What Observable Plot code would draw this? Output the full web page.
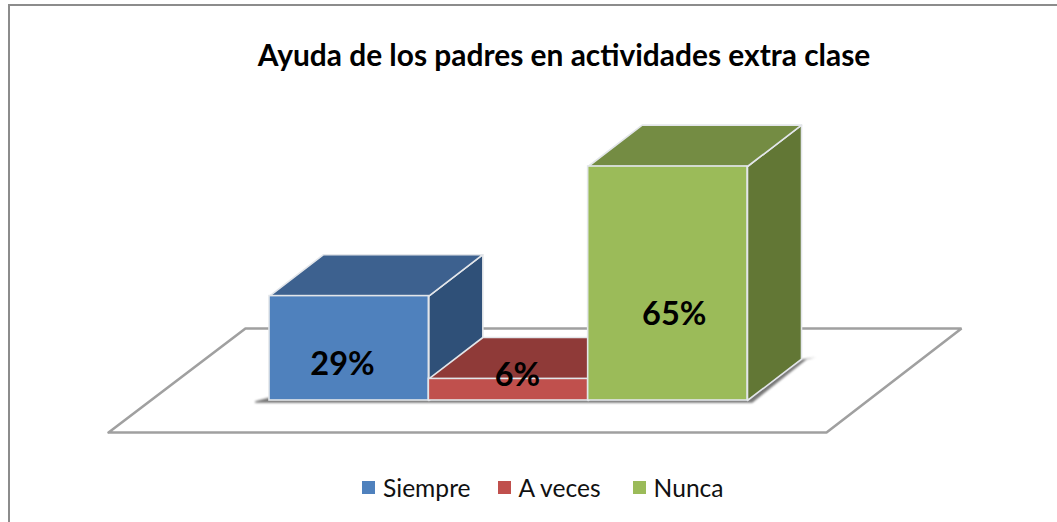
<!DOCTYPE html>
<html><head><meta charset="utf-8">
<script src="https://cdn.jsdelivr.net/npm/d3@7"></script>
<script src="https://cdn.jsdelivr.net/npm/@observablehq/plot@0.6"></script>
<style>
html,body{margin:0;background:#fff;overflow:hidden}
#page{position:relative;width:1057px;height:522px;font-family:Lato,sans-serif;overflow:hidden}
#border{position:absolute;left:8px;top:4px;right:-4px;bottom:-4px;border:2px solid #8c8c8c;pointer-events:none}
#title{position:absolute;left:0;top:-1px;width:1128px;height:90px;line-height:110px;text-align:center;font-size:29.9px;font-weight:700;color:#000;white-space:nowrap}
#chart{position:absolute;left:0;top:90px}
#legend{position:absolute;left:362px;top:472px}
.lg-swatches{font-family:Lato,sans-serif!important;font-size:24.6px!important;color:#111;margin:0!important;min-height:30px!important;white-space:nowrap}
.lg-swatch{margin-right:0!important}
.lg-swatch:nth-child(2){margin-right:27px!important}
.lg-swatch:nth-child(3){margin-right:32px!important}
.lg-swatch svg{margin-right:8px!important}
</style></head>
<body>
<div id="page">
<div id="title">Ayuda de los padres en actividades extra clase</div>
<div id="chart"></div>
<div id="legend"></div>
<div id="border"></div>
</div>
<script>
const categories = ["Siempre", "A veces", "Nunca"];
const values = [29, 6, 65];
const labels = ["29%", "6%", "65%"];
const frontColors = ["#4F81BD", "#C0504D", "#9BBB59"];
const topColors = ["#3D618F", "#8F3A38", "#748C43"];
const sideColors = ["#2F5078", "#7A3230", "#627735"];

// Oblique depth of a bar, in data units of the two scales
const depthX = 0.339, depthY = 11.5;
// Label anchors and floor corners in the same data units
const labelX = [0.458, 1.556, 2.54];
const labelY = [10, 7, 24];
const floorCorners = [[-1.01, -8.9], [3.496, -8.9], [4.343, 20], [-0.151, 20]];
const shadowCorners = [[-0.09, -0.2], [0, 0.8], [3, 0.8], [3.339, 11.4], [3.43, 12], [3.37, 11.4], [3.03, -0.6], [-0.09, -0.6]];

const closed = (pts) => [...pts, pts[0]].map(([x, y]) => ({x, y}));
const edge = "#E3E6EA";
const polygon = (pts, fill, extra = {}) =>
  Plot.line(closed(pts), {x: "x", y: "y", fill, stroke: edge, strokeWidth: 1.6, strokeLinejoin: "round", curve: "linear", ...extra});

const barMarks = categories.flatMap((c, i) => {
  const v = values[i];
  return [
    polygon([[i + 1, 0], [i + 1 + depthX, depthY], [i + 1 + depthX, v + depthY], [i + 1, v]], sideColors[i]),
    polygon([[i, v], [i + 1, v], [i + 1 + depthX, v + depthY], [i + depthX, v + depthY]], topColors[i]),
    Plot.rect([{c, v, i}], {x1: (d) => d.i, x2: (d) => d.i + 1, y1: 0, y2: (d) => d.v, fill: "c", stroke: edge, strokeWidth: 1.6})
  ];
});

const blur = (index, scales, vals, dims, ctx, next) => {
  const g = next(index, scales, vals, dims, ctx);
  g.style.filter = "blur(1.2px)";
  return g;
};

const plot = Plot.plot({
  width: 1057,
  height: 380,
  margin: 0,
  x: {axis: null, type: "linear", domain: [0, 3], range: [269, 747]},
  y: {axis: null, type: "linear", domain: [0, 65], range: [310, 76]},
  color: {type: "ordinal", domain: categories, range: frontColors},
  style: {background: "transparent", overflow: "visible"},
  marks: [
    polygon(floorCorners, "#fff", {stroke: "#A0A0A0", strokeWidth: 2.6, strokeLinejoin: "miter"}),
    Plot.line(closed(shadowCorners), {x: "x", y: "y", fill: "#777", stroke: "none", render: blur}),
    ...barMarks,
    Plot.text(categories.map((c, i) => ({t: labels[i], x: labelX[i], y: labelY[i]})), {
      x: "x", y: "y", text: "t", fill: "#000",
      fontFamily: "Lato, sans-serif", fontWeight: 700, fontSize: 32.5
    })
  ]
});
document.getElementById("chart").append(plot);
document.getElementById("legend").append(plot.legend("color", {swatchSize: 13, className: "lg"}));
</script>
</body></html>
